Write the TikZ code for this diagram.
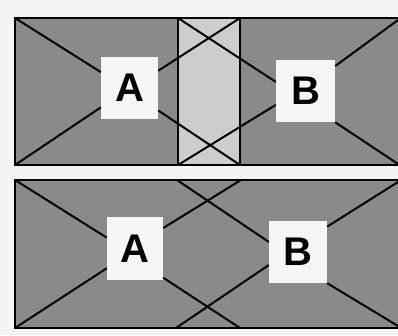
\documentclass[tikz,border=0pt]{standalone}
\usepackage{fontspec}
\setmainfont{Liberation Sans}
\definecolor{bgc}{HTML}{F4F4F4}
\definecolor{darkfill}{HTML}{8A8A8A}
\definecolor{stripfill}{HTML}{CDCDCD}
\definecolor{boxfill}{HTML}{F5F5F5}
\tikzset{
  panel/.style={fill=darkfill, draw=black, line width=2.2pt},
  strip/.style={fill=stripfill, draw=black, line width=2pt},
  letterbox/.style={fill=boxfill, draw=none, inner sep=0pt, font=\fontsize{40}{40}\selectfont\bfseries},
  wire/.style={draw=black, line width=2pt},
}
\begin{document}
\begin{tikzpicture}[x=1pt,y=-1pt]
\useasboundingbox (0,0) rectangle (398,335);
\fill[bgc] (0,0) rectangle (398,335);
% top panel
\draw[panel] (399,18) -- (15,18) -- (15,165) -- (399,165);
\draw[strip] (178,18) rectangle (240,165);
\coordinate (t1) at (15,18);
\coordinate (t2) at (15,165);
\coordinate (t3) at (178,18);
\coordinate (t4) at (178,165);
\coordinate (t5) at (240,18);
\coordinate (t6) at (240,165);
\coordinate (t7) at (398,20);
\coordinate (t8) at (398,164);
\node[letterbox, minimum width=57pt, minimum height=62pt] (A1) at (129.5,88) {A};
\node[letterbox, minimum width=59pt, minimum height=62pt] (B1) at (305.5,91) {B};
\draw[wire] (t1) -- (A1.151);
\draw[wire] (t2) -- (A1.214);
\draw[wire] (A1.31) -- (t5);
\draw[wire] (A1.322) -- (t6);
\draw[wire] (t3) -- (B1.163);
\draw[wire] (t4) -- (B1.205);
\draw[wire] (B1.40) -- (t7);
\draw[wire] (B1.south east) -- (t8);
% bottom panel
\draw[panel] (399,180) -- (15,180) -- (15,328) -- (399,328);
\coordinate (b1) at (15,180);
\coordinate (b2) at (15,328);
\coordinate (b3) at (177,180);
\coordinate (b4) at (176,328);
\coordinate (b5) at (241,180);
\coordinate (b6) at (240,328);
\coordinate (b7) at (398,182);
\coordinate (b8) at (398,326);
\node[letterbox, minimum width=56pt, minimum height=63pt] (A2) at (135,248.5) {A};
\node[letterbox, minimum width=58pt, minimum height=62pt] (B2) at (298,252) {B};
\draw[wire] (b1) -- (A2.159);
\draw[wire] (b2) -- (A2.215);
\draw[wire] (A2.36) -- (b5);
\draw[wire] (A2.314) -- (b6);
\draw[wire] (b3) -- (B2.161);
\draw[wire] (b4) -- (B2.204);
\draw[wire] (B2.41) -- (b7);
\draw[wire] (B2.south east) -- (b8);
\end{tikzpicture}
\end{document}
